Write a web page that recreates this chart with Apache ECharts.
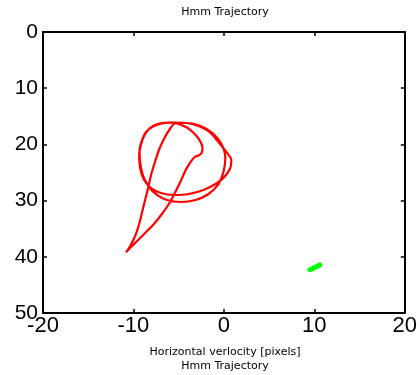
<!DOCTYPE html>
<html>
<head>
<meta charset="utf-8">
<script src="https://cdn.jsdelivr.net/npm/echarts@6/dist/echarts.min.js"></script>
<style>
  html, body { margin: 0; padding: 0; background: #fff; }
  #chart { width: 420px; height: 375px; }
</style>
</head>
<body>
<div id="chart"></div>
<script>
// Axis ticks
var xTicks = [-20, -10, 0, 10, 20];
var yTicks = [0, 10, 20, 30, 40, 50];

// Red trajectory (horizontal velocity, vertical position)
var trajX = [
  -10.83, -9.92, -8.82, -7.73, -6.85, -6.08, -5.42, -4.77, -4.22, -3.67, -3.23, -2.79, -2.47, -2.36, -2.58, -3.12, -4.00, -4.99, -5.86,
  -6.85, -7.73, -8.38, -8.88, -9.21, -9.37, -9.26, -8.82, -8.05, -6.96, -5.53, -3.89, -2.25, -0.93, 0.05, 0.71, 0.82, 0.27, -0.60, -1.59, -2.79, -4.11, -5.53,
  -6.85, -7.84, -8.60, -9.04, -9.32, -9.26, -8.93, -8.27, -7.40, -6.30, -4.77, -3.12, -1.70, -0.60, -0.05, 0.16, -0.27, -1.26, -2.58, -4.11, -5.32,
  -5.97, -6.63, -7.18, -7.62, -8.05, -8.38, -8.71, -9.04, -9.37, -9.81, -10.36, -10.79
];
var trajY = [
  39.20, 37.72, 35.94, 34.16, 32.39, 30.61, 28.65, 26.51, 24.56, 23.13, 22.24, 21.98, 21.53, 20.64, 19.57, 18.33, 17.08, 16.37, 16.10,
  16.19, 16.64, 17.44, 18.68, 20.29, 21.89, 24.20, 26.34, 27.76, 28.65, 29.00, 28.83, 28.11, 27.05, 25.80, 24.20, 22.78, 21.35, 19.57, 17.79, 16.73, 16.19, 16.10,
  16.28, 16.82, 17.79, 19.22, 21.00, 23.13, 25.62, 27.58, 29.00, 29.89, 30.25, 29.89, 28.83, 27.05, 24.91, 22.42, 19.93, 17.97, 16.73, 16.19, 16.19,
  17.26, 19.04, 21.00, 23.13, 25.45, 27.76, 29.89, 32.03, 34.16, 36.30, 38.08, 39.15
];

// Green trajectory (short stroke near the lower right)
var greenX = [9.5, 9.8, 10.1, 10.4, 10.6];
var greenY = [42.3, 42.1, 41.85, 41.6, 41.45];

function pairs(xs, ys) {
  return xs.map(function (x, i) { return [x, ys[i]]; });
}

var tickFont = 'Liberation Sans, Arial, sans-serif';
var textFont = 'DejaVu Sans, sans-serif';
var axisLine = { show: true, onZero: false, lineStyle: { color: '#000', width: 2 } };
var axisTick = { show: true, inside: true, length: 4, lineStyle: { color: '#000', width: 1.5 } };
var smallText = { fontFamily: textFont, fontSize: 11, fontWeight: 'normal', color: '#000' };

var chart = echarts.init(document.getElementById('chart'), null, { renderer: 'canvas' });
chart.setOption({
  backgroundColor: '#fff',
  animation: false,
  title: [
    { text: 'Hmm Trajectory', left: 225, top: 7, padding: 0, textAlign: 'center', textStyle: smallText },
    { text: 'Horizontal verlocity [pixels]', left: 225, top: 347, padding: 0, textAlign: 'center', textStyle: smallText },
    { text: 'Hmm Trajectory', left: 225, top: 361, padding: 0, textAlign: 'center', textStyle: smallText }
  ],
  grid: { left: 43, right: 12, top: 32, bottom: 62, containLabel: false },
  xAxis: [
    { type: 'value', position: 'bottom', min: xTicks[0], max: xTicks[xTicks.length - 1], interval: 10,
      axisLine: axisLine, axisTick: axisTick, splitLine: { show: false },
      axisLabel: { fontFamily: tickFont, fontSize: 22, color: '#000', margin: 2 } },
    { type: 'value', position: 'top', min: xTicks[0], max: xTicks[xTicks.length - 1], interval: 10,
      axisLine: axisLine, axisTick: axisTick, splitLine: { show: false }, axisLabel: { show: false } }
  ],
  yAxis: [
    { type: 'value', position: 'left', inverse: true, min: yTicks[0], max: yTicks[yTicks.length - 1], interval: 10,
      axisLine: axisLine, axisTick: axisTick, splitLine: { show: false },
      axisLabel: { fontFamily: tickFont, fontSize: 21, color: '#000', margin: 5 } },
    { type: 'value', position: 'right', inverse: true, min: yTicks[0], max: yTicks[yTicks.length - 1], interval: 10,
      axisLine: axisLine, axisTick: axisTick, splitLine: { show: false }, axisLabel: { show: false } }
  ],
  series: [
    { type: 'line', xAxisIndex: 0, yAxisIndex: 0, data: pairs(trajX, trajY), smooth: 0.3,
      showSymbol: false, lineStyle: { color: '#ff0000', width: 2.2 } },
    { type: 'line', xAxisIndex: 0, yAxisIndex: 0, data: pairs(greenX, greenY), smooth: true,
      showSymbol: false, lineStyle: { color: '#00ff00', width: 5, cap: 'round' } }
  ]
});
</script>
</body>
</html>
